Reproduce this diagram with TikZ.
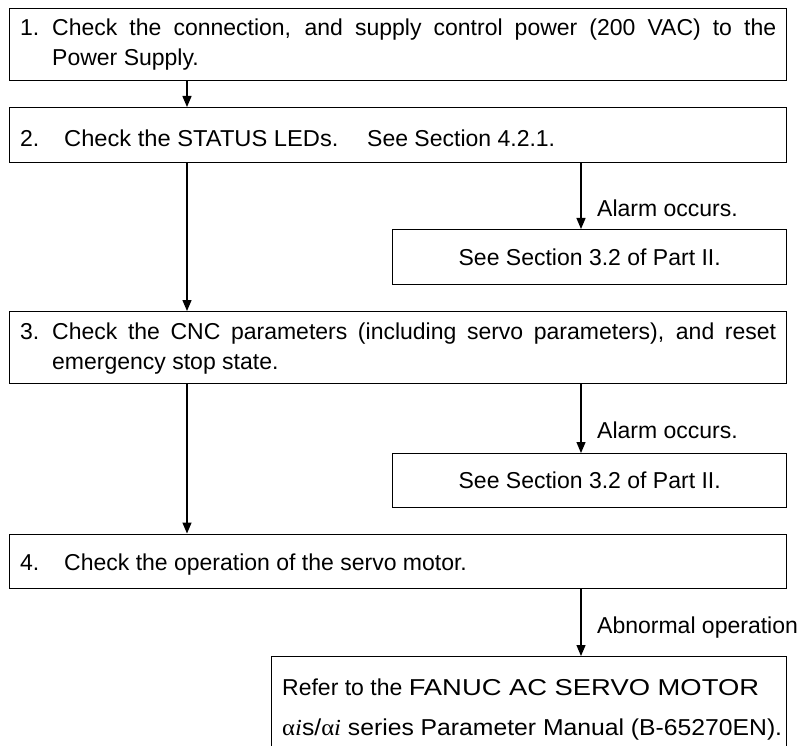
\documentclass[tikz,border=0pt]{standalone}
\usepackage{fontspec}
\usepackage{graphicx}
\setmainfont{Liberation Sans}
\newfontfamily\greekserif{Liberation Serif}
\usetikzlibrary{arrows.meta}
\begin{document}
\begin{tikzpicture}[x=1pt,y=-1pt,
  box/.style={draw, line width=1.4pt, rectangle, inner sep=0pt, anchor=north west,
    font=\fontsize{23}{28}\selectfont},
  txt/.style={inner sep=0pt, anchor=base west, font=\fontsize{23}{28}\selectfont},
  arr/.style={line width=1.3pt, -{Triangle[length=11pt,width=9pt]}}]
\clip (0,0) rectangle (806,746);
\fill[white] (0,0) rectangle (806,746);
% box 1
\node[box, minimum width=777pt, minimum height=72pt] (s1) at (9,8) {};
\node[txt] (s1n) at (20,36) {1.};
\node[txt] (s1a) at (52,36) {\makebox[724pt][s]{Check the connection, and supply control power (200 VAC) to the}};
\node[txt] (s1b) at (52,66) {Power Supply.};
% box 2
\node[box, minimum width=777pt, minimum height=55pt] (s2) at (9,107) {};
\node[txt] (s2n) at (20,146.5) {2.};
\node[txt] (s2a) at (64,146.5) {\scalebox{1.03}[1]{Check the STATUS LEDs.}};
\node[txt] (s2b) at (367,146.5) {See Section 4.2.1.};
% alarm box 1
\node[box, minimum width=394pt, minimum height=55pt] (a1) at (392,229) {See Section 3.2 of Part II.};
\node[txt] (l1) at (597,216.4) {Alarm occurs.};
% box 3
\node[box, minimum width=777pt, minimum height=72pt] (s3) at (9,311) {};
\node[txt] (s3n) at (20,339) {3.};
\node[txt] (s3a) at (52,339) {\makebox[724pt][s]{Check the CNC parameters (including servo parameters), and reset}};
\node[txt] (s3b) at (52,369) {emergency stop state.};
% alarm box 2
\node[box, minimum width=394pt, minimum height=54pt] (a2) at (392,453) {See Section 3.2 of Part II.};
\node[txt] (l2) at (597,438.4) {Alarm occurs.};
% box 4
\node[box, minimum width=777pt, minimum height=54.5pt] (s4) at (9,533.5) {};
\node[txt] (s4n) at (20,570.4) {4.};
\node[txt] (s4a) at (64,570.4) {Check the operation of the servo motor.};
% final box
\node[box, minimum width=515pt, minimum height=110pt] (f) at (271,656) {};
\node[txt] (fa) at (282,695.4) {Refer to the \scalebox{1.19}[1]{FANUC AC SERVO MOTOR}};
\node[txt] (fb) at (282,735.4) {\scalebox{1.075}[1]{{\greekserif α\textit{i}}s/{\greekserif α\textit{i}} series Parameter Manual (B-65270EN).}};
\node[txt] (l3) at (597,633.4) {Abnormal operation};
% connectors
\draw[arr] ([xshift=178pt]s1.south west) -- ([xshift=178pt]s2.north west);
\draw[arr] ([xshift=178pt]s2.south west) -- ([xshift=178pt]s3.north west);
\draw[arr] ([xshift=572pt]s2.south west) -- ([xshift=189pt]a1.north west);
\draw[arr] ([xshift=178pt]s3.south west) -- ([xshift=178pt]s4.north west);
\draw[arr] ([xshift=572pt]s3.south west) -- ([xshift=189pt]a2.north west);
\draw[arr] ([xshift=572pt]s4.south west) -- ([xshift=310pt]f.north west);
\end{tikzpicture}
\end{document}
